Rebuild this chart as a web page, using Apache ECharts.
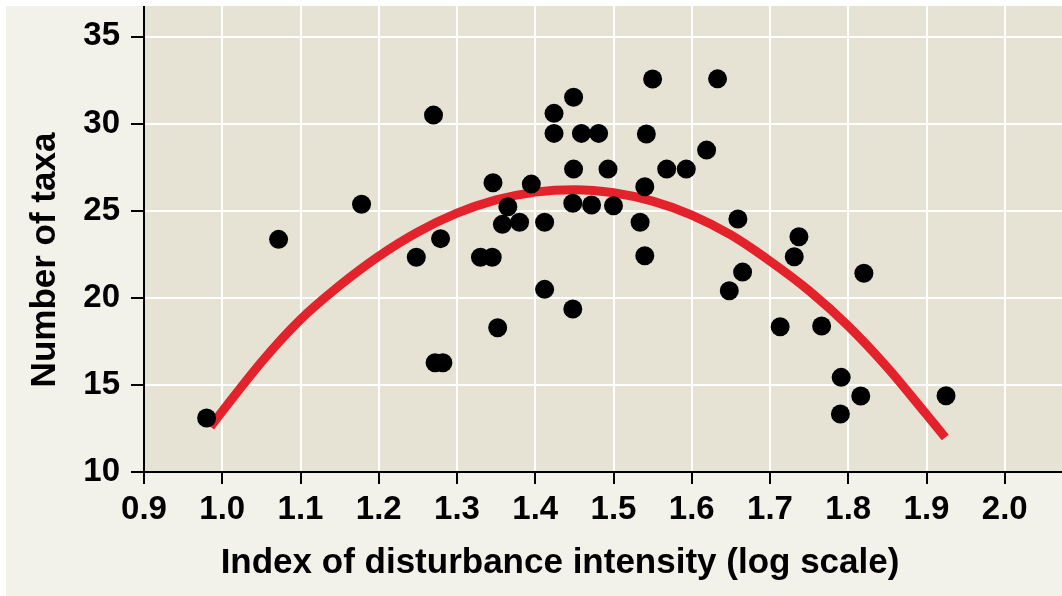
<!DOCTYPE html>
<html>
<head>
<meta charset="utf-8">
<script src="https://cdn.jsdelivr.net/npm/echarts@6/dist/echarts.min.js"></script>
<style>
html,body{margin:0;padding:0;background:#ffffff;}
#chart{width:1062px;height:596px;box-sizing:border-box;border-top:6px solid #fff;border-left:6px solid #fff;background:#f2f1ea;}
</style>
</head>
<body>
<div id="chart"></div>
<script>
// Observations (disturbance index on log scale, number of taxa)
const disturbance = [
  0.980, 1.072, 1.178, 1.248, 1.279, 1.272, 1.282, 1.270, 1.330, 1.345,
  1.346, 1.352, 1.358, 1.365, 1.380, 1.395, 1.412, 1.412, 1.424, 1.424,
  1.449, 1.449, 1.448, 1.448, 1.459, 1.472, 1.481, 1.493, 1.500, 1.534,
  1.540, 1.540, 1.542, 1.550, 1.568, 1.593, 1.619, 1.633, 1.648, 1.659,
  1.665, 1.713, 1.731, 1.737, 1.766, 1.791, 1.790, 1.816, 1.820, 1.925
];
const taxa = [
  13.1, 23.35, 25.36, 22.32, 23.39, 16.27, 16.27, 30.48, 22.32, 22.32,
  26.60, 18.28, 24.21, 25.22, 24.33, 26.52, 24.33, 20.48, 30.58, 29.43,
  31.50, 27.38, 25.42, 19.35, 29.43, 25.32, 29.43, 27.38, 25.28, 24.33,
  26.37, 22.41, 29.39, 32.55, 27.38, 27.38, 28.47, 32.56, 20.40, 24.52,
  21.47, 18.34, 22.35, 23.50, 18.38, 15.43, 13.33, 14.36, 21.40, 14.38
];
// Fitted curve
const curveX = [0.985, 1.05, 1.1, 1.15, 1.2, 1.25, 1.3, 1.35, 1.4, 1.45,
  1.5, 1.55, 1.6, 1.65, 1.7, 1.75, 1.8, 1.85, 1.9, 1.924];
const curveY = [12.6, 16.3, 18.75, 20.7, 22.38, 23.77, 24.85, 25.61, 26.06, 26.2,
  26.02, 25.54, 24.74, 23.6, 22.1, 20.4, 18.38, 16.0, 13.3, 11.98];
// Tick labels
const xTicks = [0.9, 1.0, 1.1, 1.2, 1.3, 1.4, 1.5, 1.6, 1.7, 1.8, 1.9, 2.0];
const yTicks = [10, 15, 20, 25, 30, 35];
const xTitle = 'Index of disturbance intensity (log scale)';
const yTitle = 'Number of taxa';

const FONT = '"Liberation Sans", Arial, Helvetica, sans-serif';
const chart = echarts.init(document.getElementById('chart'));
const scatterData = disturbance.map((x, i) => [x, taxa[i]]);
const curveData = curveX.map((x, i) => [x, curveY[i]]);

chart.setOption({
  animation: false,
  grid: {
    left: 138, right: 0, top: 0, bottom: 124,
    show: true, backgroundColor: '#e6e3d5', borderWidth: 0,
    containLabel: false, outerBoundsMode: 'none'
  },
  xAxis: {
    type: 'value', min: 0.9, max: 2.0732, interval: 0.1,
    axisLine: { show: true, onZero: false, lineStyle: { color: '#000', width: 2 } },
    axisTick: { show: true, length: 12, lineStyle: { color: '#000', width: 2 }, customValues: xTicks },
    axisLabel: {
      customValues: xTicks, margin: 21,
      formatter: v => Number(v).toFixed(1),
      color: '#000', fontSize: 33, fontWeight: 'bold', fontFamily: FONT
    },
    splitLine: { show: true, lineStyle: { color: '#ffffff', width: 2 } }
  },
  yAxis: {
    type: 'value', min: 10, max: 36.74, interval: 5,
    axisLine: { show: true, onZero: false, lineStyle: { color: '#000', width: 2 } },
    axisTick: { show: true, length: 13, lineStyle: { color: '#000', width: 2 }, customValues: yTicks },
    axisLabel: {
      customValues: yTicks, margin: 24,
      color: '#000', fontSize: 33, fontWeight: 'bold', fontFamily: FONT
    },
    splitLine: { show: true, lineStyle: { color: '#ffffff', width: 2 } }
  },
  graphic: [
    {
      type: 'text', x: 554, y: 557, z: 100,
      style: { text: xTitle, fill: '#000', fontSize: 35, fontWeight: 'bold', fontFamily: FONT, align: 'center', verticalAlign: 'middle' }
    },
    {
      type: 'text', x: 39, y: 254, rotation: Math.PI / 2, z: 100,
      style: { text: yTitle, fill: '#000', fontSize: 35, fontWeight: 'bold', fontFamily: FONT, align: 'center', verticalAlign: 'middle' }
    }
  ],
  series: [
    {
      type: 'line', data: curveData, smooth: 0.3, showSymbol: false, z: 2,
      lineStyle: { color: '#e3222b', width: 9 }
    },
    {
      type: 'scatter', data: scatterData, symbol: 'circle', symbolSize: 19, z: 3,
      itemStyle: { color: '#000', opacity: 1 }
    }
  ]
});
</script>
</body>
</html>
